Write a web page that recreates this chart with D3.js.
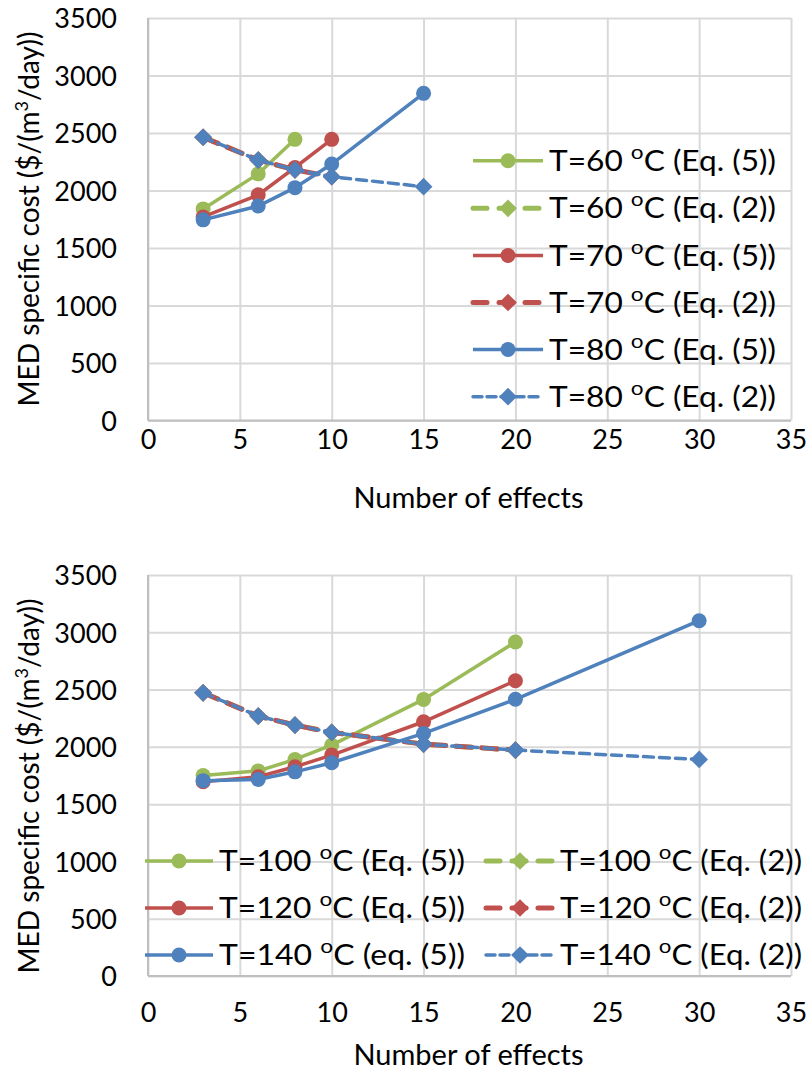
<!DOCTYPE html>
<html>
<head>
<meta charset="utf-8">
<script src="https://cdn.jsdelivr.net/npm/d3@7"></script>
<style>
    body { margin: 0; background: #fff; }
    text { font-family: Lato, "Open Sans", sans-serif; fill: #000; }
</style>
</head>
<body>
<div id="chart"></div>
<script>
// x axis ticks and y axis ticks (same for both panels)
const xTicks = [0, 5, 10, 15, 20, 25, 30, 35];
const yTicks = [0, 500, 1000, 1500, 2000, 2500, 3000, 3500];

// top panel - number of effects for each temperature
const topEffects60 = [3, 6, 8];
const topEffects70 = [3, 6, 8, 10];
const topEffects80 = [3, 6, 8, 10, 15];

// top panel - cost from Eq. (5)
const top60Eq5 = [1840, 2145, 2445];
const top70Eq5 = [1770, 1962, 2200, 2445];
const top80Eq5 = [1745, 1865, 2025, 2230, 2845];

// top panel - cost from Eq. (2)
const top60Eq2 = [2463, 2265, 2180];
const top70Eq2 = [2463, 2265, 2180, 2120];
const top80Eq2 = [2463, 2265, 2180, 2120, 2033];

// bottom panel - number of effects for each temperature
const botEffects100 = [3, 6, 8, 10, 15, 20];
const botEffects120 = [3, 6, 8, 10, 15, 20];
const botEffects140 = [3, 6, 8, 10, 15, 20, 30];

// bottom panel - cost from Eq. (5)
const bot100Eq5 = [1750, 1790, 1890, 2015, 2414, 2915];
const bot120Eq5 = [1695, 1739, 1826, 1928, 2219, 2577];
const bot140Eq5 = [1705, 1716, 1782, 1861, 2117, 2415, 3101];

// bottom panel - cost from Eq. (2)
const bot100Eq2 = [2472, 2269, 2190, 2126, 2024, 1972];
const bot120Eq2 = [2472, 2269, 2190, 2126, 2024, 1972];
const bot140Eq2 = [2472, 2269, 2190, 2126, 2024, 1972, 1890];

const green = "#9bbb59";
const red = "#c0504d";
const blue = "#4f81bd";

// line styles for the two equations
const solid = { width: 3.5, dash: null, marker: "circle" };
const dashedThick = { width: 5, dash: "16,10", marker: "diamond" };
const dashedThin = { width: 3.5, dash: "10,6", marker: "diamond" };

const pageWidth = 809;
const pageHeight = 1072;

const svg = d3.select("#chart")
    .append("svg")
    .attr("width", pageWidth)
    .attr("height", pageHeight);

// build a series list for one panel
function makeSeries(names, effects, values, colors, styles) {
    return names.map((n, i) => ({
        name: n,
        color: colors[i],
        style: styles[i],
        points: effects[i].map((e, j) => ({ x: e, y: values[i][j] }))
    }));
}

const topSeries = makeSeries(
    [["T=60 ", "C (Eq. (5))"], ["T=60 ", "C (Eq. (2))"], ["T=70 ", "C (Eq. (5))"],
     ["T=70 ", "C (Eq. (2))"], ["T=80 ", "C (Eq. (5))"], ["T=80 ", "C (Eq. (2))"]],
    [topEffects60, topEffects60, topEffects70, topEffects70, topEffects80, topEffects80],
    [top60Eq5, top60Eq2, top70Eq5, top70Eq2, top80Eq5, top80Eq2],
    [green, green, red, red, blue, blue],
    [solid, dashedThick, solid, dashedThick, solid, dashedThin]
);

const botSeries = makeSeries(
    [["T=100 ", "C (Eq. (5))"], ["T=100 ", "C (Eq. (2))"], ["T=120 ", "C (Eq. (5))"],
     ["T=120 ", "C (Eq. (2))"], ["T=140 ", "C (eq. (5))"], ["T=140 ", "C (Eq. (2))"]],
    [botEffects100, botEffects100, botEffects120, botEffects120, botEffects140, botEffects140],
    [bot100Eq5, bot100Eq2, bot120Eq5, bot120Eq2, bot140Eq5, bot140Eq2],
    [green, green, red, red, blue, blue],
    [solid, dashedThick, solid, dashedThick, solid, dashedThin]
);

// draw one panel; box = plot area in page pixels
function drawPanel(series, box, legendPos, textLen) {
    const x = d3.scaleLinear().domain([0, 35]).range([box.left, box.right]);
    const y = d3.scaleLinear().domain([0, 3500]).range([box.bottom, box.top]);

    const g = svg.append("g");

    // gridlines
    g.append("g")
        .attr("transform", `translate(0, ${box.bottom})`)
        .call(d3.axisBottom(x).tickValues(xTicks).tickSize(-(box.bottom - box.top)).tickFormat(""))
        .call(a => a.select(".domain").remove())
        .call(a => a.selectAll("line").attr("stroke", "#d9d9d9").attr("stroke-width", 2));
    g.append("g")
        .attr("transform", `translate(${box.left}, 0)`)
        .call(d3.axisLeft(y).tickValues(yTicks).tickSize(-(box.right - box.left)).tickFormat(""))
        .call(a => a.select(".domain").remove())
        .call(a => a.selectAll("line").attr("stroke", "#d9d9d9").attr("stroke-width", 2));

    // axis lines
    g.append("line")
        .attr("x1", box.left).attr("x2", box.left)
        .attr("y1", box.top).attr("y2", box.bottom)
        .attr("stroke", "#bfbfbf").attr("stroke-width", 2);
    g.append("line")
        .attr("x1", box.left).attr("x2", box.right)
        .attr("y1", box.bottom).attr("y2", box.bottom)
        .attr("stroke", "#bfbfbf").attr("stroke-width", 2);

    // tick labels
    g.append("g")
        .attr("transform", `translate(${box.left}, 0)`)
        .call(d3.axisLeft(y).tickValues(yTicks).tickSize(0).tickPadding(31).tickFormat(d3.format("d")))
        .call(a => a.select(".domain").remove())
        .call(a => a.selectAll("text").attr("font-size", 27).attr("font-family", null).attr("dy", "0.36em"));
    g.append("g")
        .attr("transform", `translate(0, ${box.bottom})`)
        .call(d3.axisBottom(x).tickValues(xTicks).tickSize(0).tickPadding(box.xTickPad))
        .call(a => a.select(".domain").remove())
        .call(a => a.selectAll("text").attr("font-size", 27).attr("font-family", null));

    // axis titles
    g.append("text")
        .attr("x", (box.left + box.right) / 2 - 1)
        .attr("y", box.xTitleY)
        .attr("text-anchor", "middle")
        .attr("font-size", 29)
        .text("Number of effects");

    const yTitle = g.append("text")
        .attr("transform", `translate(39, ${box.yTitleMid}) rotate(-90)`)
        .attr("text-anchor", "middle")
        .attr("font-size", 28);
    yTitle.append("tspan").text("MED specific cost ($/(m");
    yTitle.append("tspan").attr("font-size", 18).attr("baseline-shift", "super").text("3");
    yTitle.append("tspan").text("/day))");

    // lines and markers
    const line = d3.line().x(d => x(d.x)).y(d => y(d.y));

    series.forEach(s => {
        const sg = g.append("g");
        sg.append("path")
            .datum(s.points)
            .attr("d", line)
            .attr("fill", "none")
            .attr("stroke", s.color)
            .attr("stroke-width", s.style.width)
            .attr("stroke-dasharray", s.style.dash)
            .attr("stroke-linecap", s.style.dash ? "round" : "butt");
        drawMarkers(sg, s, s.points.map(p => [x(p.x), y(p.y)]));
    });

    // legend
    series.forEach((s, i) => {
        const pos = legendPos[i];
        const lg = g.append("g").attr("transform", `translate(${pos.x}, ${pos.y})`);
        lg.append("line")
            .attr("x1", 0).attr("x2", pos.len)
            .attr("stroke", s.color)
            .attr("stroke-width", s.style.width)
            .attr("stroke-dasharray", s.style.dash ? (s.style.width > 4 ? "14,12" : "9,5") : null)
            .attr("stroke-linecap", s.style.dash ? "round" : "butt");
        drawMarkers(lg, s, [[pos.len / 2, 0]]);
        const t = lg.append("text")
            .attr("x", pos.len + 6)
            .attr("y", 0)
            .attr("dy", "0.36em")
            .attr("font-size", 28)
            .attr("textLength", textLen[i])
            .attr("lengthAdjust", "spacingAndGlyphs");
        t.append("tspan").text(s.name[0]);
        t.append("tspan").attr("font-size", 20).attr("baseline-shift", "super").text("o");
        t.append("tspan").text(s.name[1]);
    });
}

function drawMarkers(sel, s, pts) {
    if (s.style.marker === "circle") {
        sel.selectAll(null).data(pts).enter()
            .append("circle")
            .attr("cx", d => d[0]).attr("cy", d => d[1])
            .attr("r", 7.5)
            .attr("fill", s.color);
    } else {
        const sym = d3.symbol().type(d3.symbolDiamond2).size(200);
        sel.selectAll(null).data(pts).enter()
            .append("path")
            .attr("transform", d => `translate(${d[0]}, ${d[1]})`)
            .attr("d", sym)
            .attr("fill", s.color);
    }
}

// top panel
drawPanel(topSeries,
    { left: 148, right: 791, top: 18, bottom: 420.5, xTickPad: 9, xTitleY: 508, yTitleMid: 219 },
    [160.7, 208.3, 255.5, 302.5, 349.5, 396.7].map(yy => ({ x: 473, y: yy, len: 70 })),
    [227, 227, 227, 227, 227, 227]
);

// bottom panel
drawPanel(botSeries,
    { left: 148, right: 791, top: 575, bottom: 976, xTickPad: 27, xTitleY: 1065, yTitleMid: 786 },
    [
        { x: 145, y: 861, len: 68 }, { x: 486, y: 861, len: 68 },
        { x: 145, y: 908, len: 68 }, { x: 486, y: 908, len: 68 },
        { x: 145, y: 955, len: 68 }, { x: 486, y: 955, len: 68 }
    ],
    [246, 242, 246, 242, 246, 242]
);
</script>
</body>
</html>
